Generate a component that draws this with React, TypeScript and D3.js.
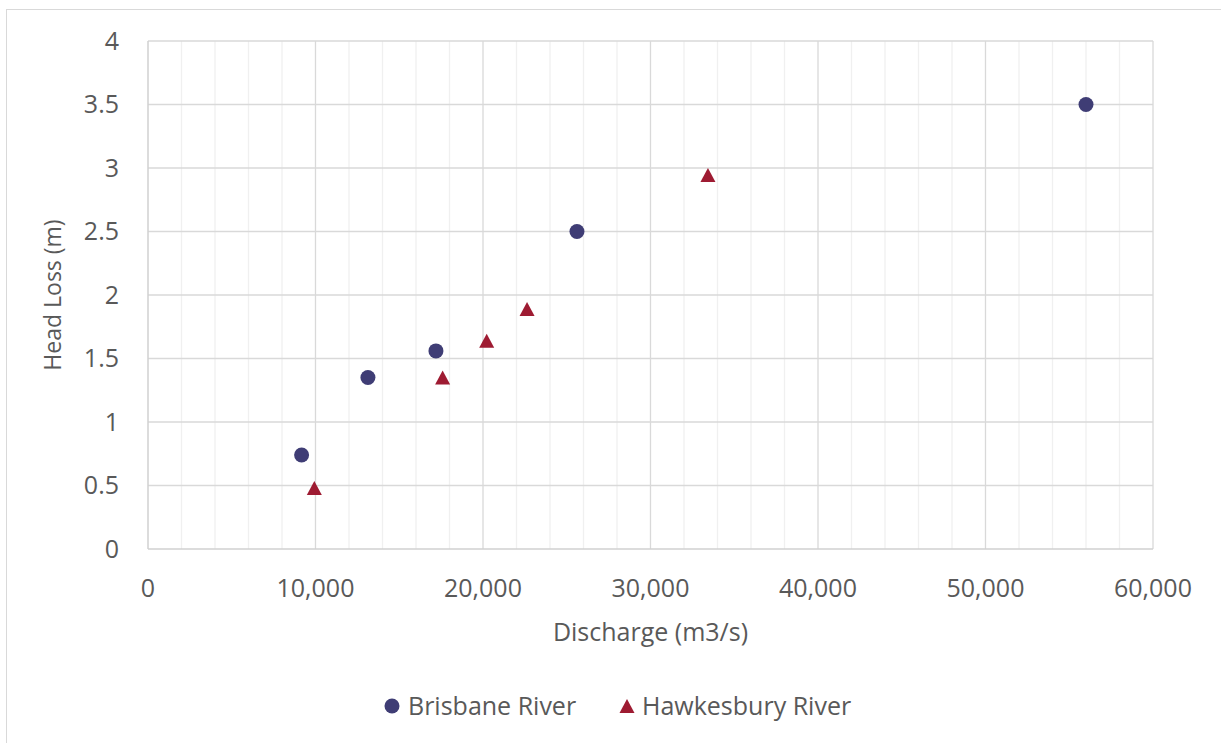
import React from "react";
import * as d3 from "d3";

const brisbaneX = [9170, 13130, 17190, 25610, 56000];
const brisbaneY = [0.74, 1.35, 1.56, 2.5, 3.5];
const hawkesburyX = [9930, 17590, 20220, 22630, 33430];
const hawkesburyY = [0.48, 1.35, 1.64, 1.89, 2.945];
const xTicks = [0, 10000, 20000, 30000, 40000, 50000, 60000];
const xMinorTicks = d3.range(0, 60001, 2000);
const yTicks = [0, 0.5, 1, 1.5, 2, 2.5, 3, 3.5, 4];
const seriesNames = ["Brisbane River", "Hawkesbury River"];
const xTitle = "Discharge (m3/s)";
const yTitle = "Head Loss (m)";

const W = 1221;
const H = 743;
const M = { left: 148, right: 1153, top: 41, bottom: 549 };
const FONT = "'Open Sans', sans-serif";
const TEXT = "#595959";
const C1 = "#3f3d75";
const C2 = "#9e1b32";

function tri(cx: number, cy: number, w = 15, h = 14) {
  return `M${cx},${cy - h / 2}L${cx + w / 2},${cy + h / 2}L${cx - w / 2},${cy + h / 2}Z`;
}

export default function App() {
  const x = d3.scaleLinear().domain([0, 60000]).range([M.left, M.right]);
  const y = d3.scaleLinear().domain([0, 4]).range([M.bottom, M.top]);
  const fmt = d3.format(",");
  return (
    <svg width={W} height={H} style={{ position: "absolute", left: 0, top: 0 }} fontFamily={FONT}>
      <rect x={0} y={0} width={W} height={H} fill="#fff" />
      <rect x={6.5} y={9.5} width={W + 10} height={H + 10} fill="none" stroke="#d9d9d9" strokeWidth={1} />
      {xMinorTicks.filter((t) => t % 10000 !== 0).map((t) => (
        <line key={"m" + t} x1={x(t)} x2={x(t)} y1={M.top} y2={M.bottom} stroke="#f0f0f0" strokeWidth={1.3} />
      ))}
      {xTicks.filter((t) => t !== 0).map((t) => (
        <line key={"vx" + t} x1={x(t)} x2={x(t)} y1={M.top} y2={M.bottom} stroke="#d9d9d9" strokeWidth={1.3} />
      ))}
      {yTicks.filter((t) => t !== 0).map((t) => (
        <line key={"hy" + t} x1={M.left} x2={M.right} y1={y(t)} y2={y(t)} stroke="#d9d9d9" strokeWidth={1.3} />
      ))}
      <line x1={M.left} x2={M.left} y1={M.top} y2={M.bottom} stroke="#d0d0d0" strokeWidth={1.5} />
      <line x1={M.left} x2={M.right} y1={M.bottom} y2={M.bottom} stroke="#d0d0d0" strokeWidth={1.5} />
      {yTicks.map((t) => (
        <text key={"yl" + t} x={119} y={y(t)} dy="0.35em" textAnchor="end" fontSize={25} fill={TEXT}>
          {String(t)}
        </text>
      ))}
      {xTicks.map((t) => (
        <text key={"xl" + t} x={x(t)} y={597} textAnchor="middle" fontSize={25} fill={TEXT}>
          {fmt(t)}
        </text>
      ))}
      <text x={(M.left + M.right) / 2} y={641} textAnchor="middle" fontSize={25} fill={TEXT}>
        {xTitle}
      </text>
      <text
        transform={`translate(61,${(M.top + M.bottom) / 2}) rotate(-90)`}
        textAnchor="middle"
        fontSize={23}
        fill={TEXT}
      >
        {yTitle}
      </text>
      {brisbaneX.map((v, i) => (
        <circle key={"b" + i} cx={x(v)} cy={y(brisbaneY[i])} r={7.5} fill={C1} />
      ))}
      {hawkesburyX.map((v, i) => (
        <path key={"h" + i} d={tri(x(v), y(hawkesburyY[i]))} fill={C2} />
      ))}
      <circle cx={392} cy={706} r={7.5} fill={C1} />
      <text x={408} y={706} dy="0.35em" fontSize={25} fill={TEXT}>
        {seriesNames[0]}
      </text>
      <path d={tri(627, 706)} fill={C2} />
      <text x={642} y={706} dy="0.35em" fontSize={25} fill={TEXT}>
        {seriesNames[1]}
      </text>
    </svg>
  );
}
